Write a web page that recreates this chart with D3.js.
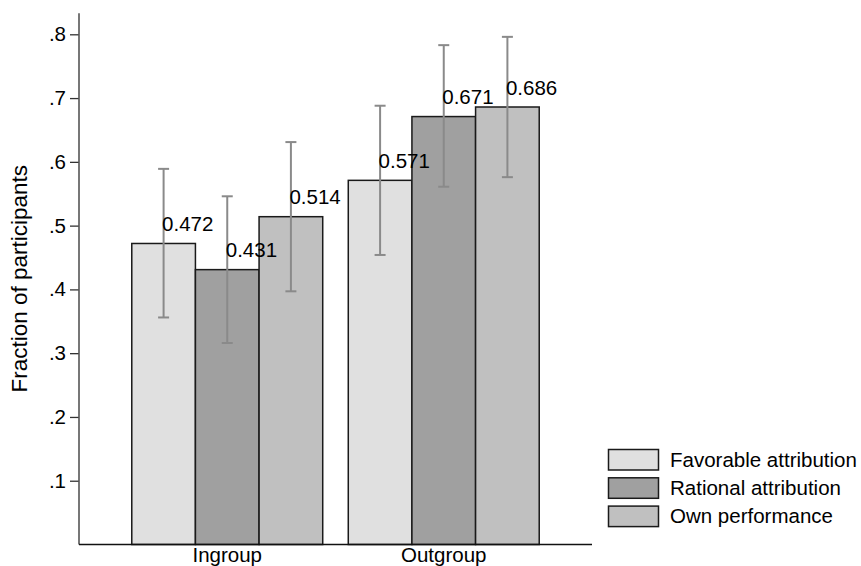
<!DOCTYPE html>
<html>
<head>
<meta charset="utf-8">
<script src="https://cdn.jsdelivr.net/npm/d3@7"></script>
<style>
body{margin:0;background:#fff;}
text{font-family:"Liberation Sans",Arial,sans-serif;fill:#000;}
</style>
</head>
<body>
<div id="plot"></div>
<script>
//data
var groups = ['Ingroup','Outgroup'];
var series = ['Favorable attribution','Rational attribution','Own performance'];
var colors = ['#e0e0e0','#a0a0a0','#c0c0c0'];
var means = [[0.472,0.431,0.514],[0.571,0.671,0.686]];
var lower = [[0.356,0.316,0.397],[0.454,0.561,0.576]];
var upper = [[0.589,0.546,0.631],[0.688,0.783,0.796]];
var yTicks = [0.1,0.2,0.3,0.4,0.5,0.6,0.7,0.8];

var W = 861, H = 566;
var svg = d3.select('#plot').append('svg')
	.attr('width',W)
	.attr('height',H);

var y = d3.scaleLinear().domain([0,0.8]).range([544.5,34.3]);
var x0 = d3.scaleBand().domain(groups).range([119,552]).paddingInner(0.118).paddingOuter(0.059);
var x1 = d3.scaleBand().domain(series).range([0,x0.bandwidth()]);

//bars
groups.forEach(function(g,gi){
	var grp = svg.append('g').attr('transform','translate('+x0(g)+',0)');
	series.forEach(function(s,si){
		grp.append('rect')
			.attr('x',x1(s))
			.attr('y',y(means[gi][si]))
			.attr('width',x1.bandwidth())
			.attr('height',y(0)-y(means[gi][si]))
			.attr('fill',colors[si])
			.attr('stroke','#1a1a1a')
			.attr('stroke-width',1.5);
	});
	series.forEach(function(s,si){
		var cx = x1(s)+x1.bandwidth()/2;
		grp.append('line')
			.attr('x1',cx).attr('x2',cx)
			.attr('y1',y(lower[gi][si])).attr('y2',y(upper[gi][si]))
			.attr('stroke','#8a8a8a').attr('stroke-width',2);
		[lower[gi][si],upper[gi][si]].forEach(function(v){
			grp.append('line')
				.attr('x1',cx-5.5).attr('x2',cx+5.5)
				.attr('y1',y(v)).attr('y2',y(v))
				.attr('stroke','#8a8a8a').attr('stroke-width',2);
		});
		grp.append('text')
			.attr('x',cx-1.5)
			.attr('y',y(means[gi][si])-12.5)
			.attr('font-size','20.5px')
			.text(d3.format('.3f')(means[gi][si]));
	});
});

//y axis
var yAxis = d3.axisLeft(y).tickValues(yTicks).tickSize(9).tickPadding(4)
	.tickFormat(function(d){return d3.format('.1f')(d).replace(/^0/,'');});
var ya = svg.append('g').attr('transform','translate(79,0)').call(yAxis);
ya.select('.domain').remove();
ya.selectAll('.tick line').attr('stroke','#333').attr('stroke-width',1.3);
ya.selectAll('.tick text').attr('font-size','20.5px').attr('font-family','Liberation Sans, Arial, sans-serif').attr('fill','#000');
svg.append('line').attr('x1',79).attr('x2',79).attr('y1',13.3).attr('y2',y(0))
	.attr('stroke','#555').attr('stroke-width',1.6);

//x axis baseline
svg.append('line').attr('x1',79).attr('x2',592).attr('y1',y(0)).attr('y2',y(0))
	.attr('stroke','#111').attr('stroke-width',1.5);
groups.forEach(function(g){
	svg.append('text')
		.attr('x',x0(g)+x0.bandwidth()/2)
		.attr('y',562)
		.attr('text-anchor','middle')
		.attr('font-size','20.5px')
		.text(g);
});

//y title
svg.append('text')
	.attr('transform','translate(27,278.7) rotate(-90)')
	.attr('text-anchor','middle')
	.attr('font-size','22.5px')
	.text('Fraction of participants');

//legend
series.forEach(function(s,si){
	var ly = 449.5+si*28.3;
	svg.append('rect')
		.attr('x',608.5).attr('y',ly)
		.attr('width',50).attr('height',20.5)
		.attr('fill',colors[si]).attr('stroke','#1a1a1a').attr('stroke-width',1.5);
	svg.append('text')
		.attr('x',670).attr('y',ly+17)
		.attr('font-size','20.5px')
		.text(s);
});
</script>
</body>
</html>
